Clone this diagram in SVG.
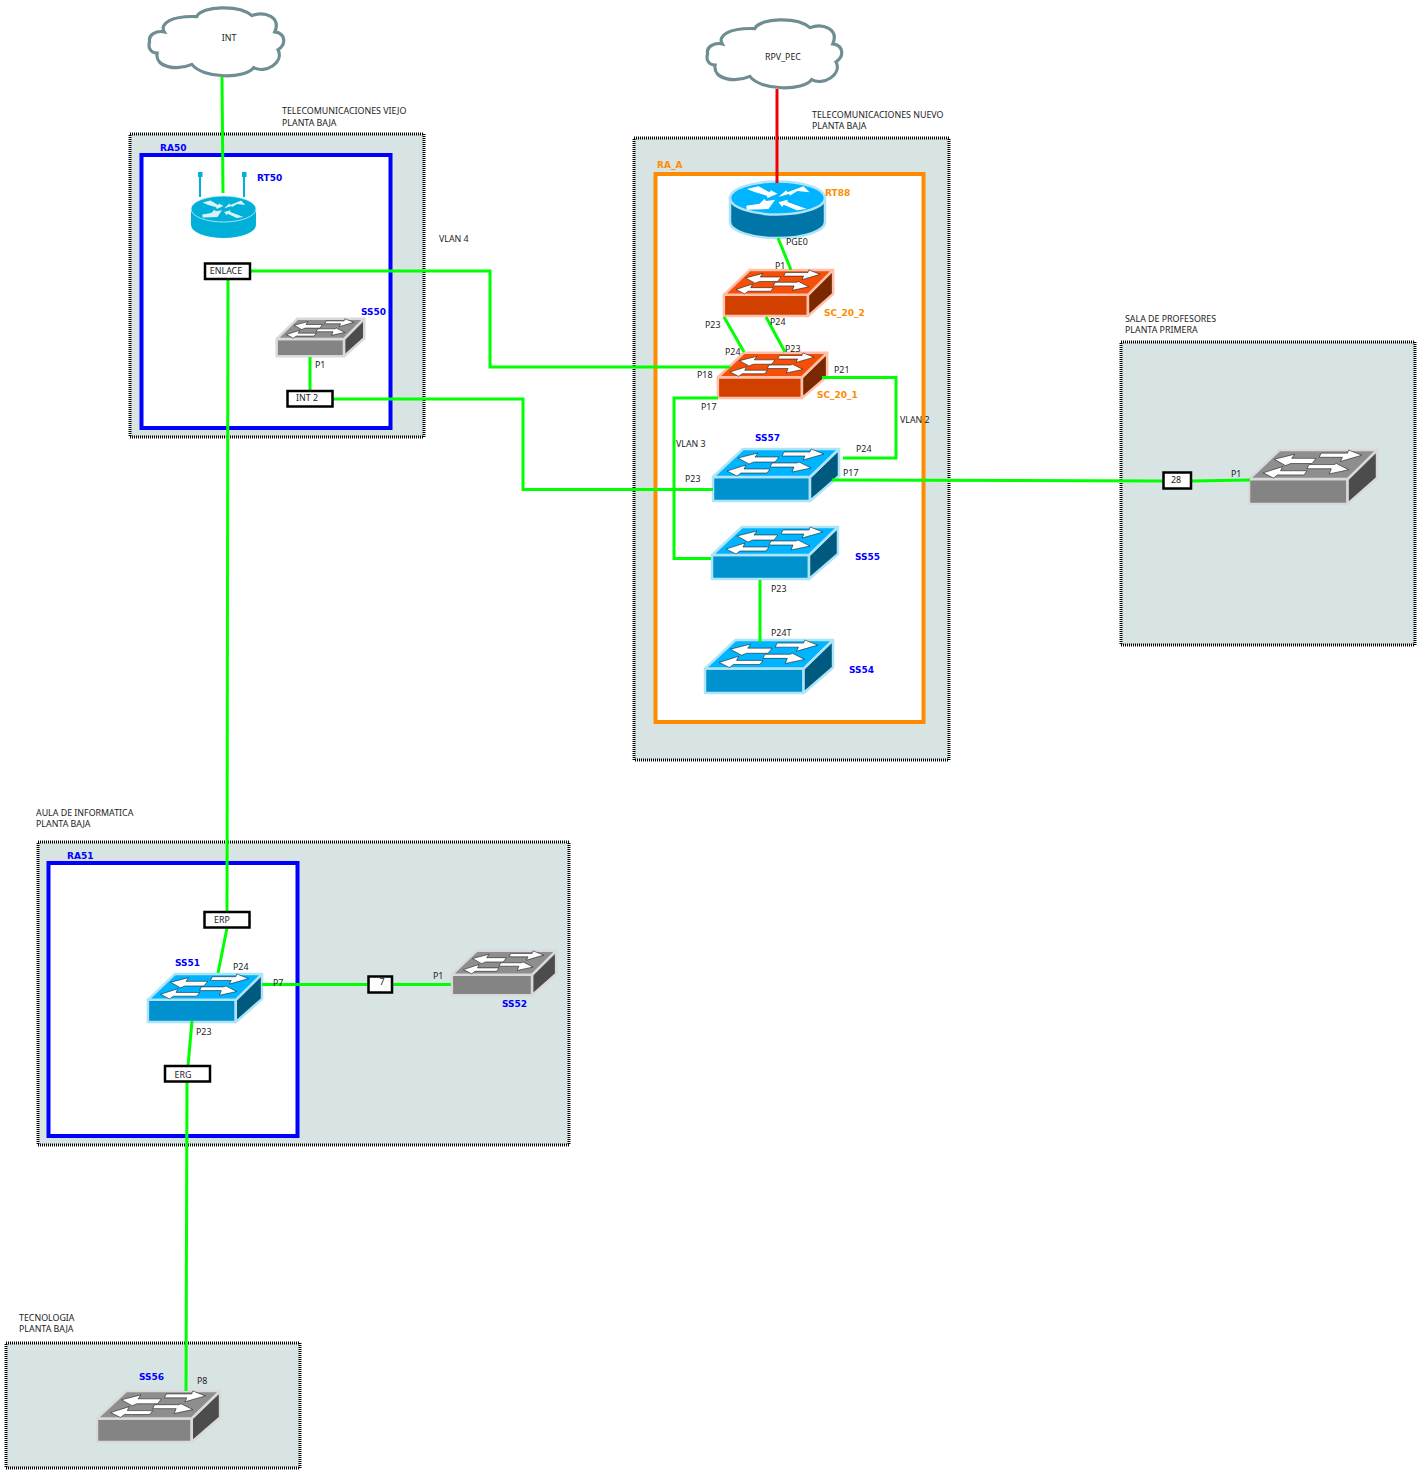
<svg xmlns="http://www.w3.org/2000/svg" xmlns:xlink="http://www.w3.org/1999/xlink" width="1424" height="1470" viewBox="0 0 1424 1470">
<style>
text{font-family:"Noto Sans","DejaVu Sans",sans-serif;font-size:8.850px;fill:#222}
.m{text-anchor:middle}
.bb,.bo{font-family:"DejaVu Sans",sans-serif;font-weight:700;font-size:9px}
.bb{fill:#0000ff}
.bo{fill:#ff8c00}
.area{fill:#d7e4e3;stroke:#000;stroke-width:3;stroke-dasharray:1 1}
.frame{fill:#fff;stroke-width:4}
.box{fill:#fff;stroke:#000;stroke-width:2.5}
.cloud{fill:#fff;stroke:#6e8e94;stroke-width:3.200;vector-effect:non-scaling-stroke}
.lnk{fill:none;stroke:#00ff00;stroke-width:3}
.red{stroke:#f00000}
.blue{--t:#00b4ff;--f:#0092cf;--s:#005a80;--e:#aee4f7}
.redsw{--t:#f5500a;--f:#d24000;--s:#7a2800;--e:#ffbfa8}
.grey{--t:#8e8e8e;--f:#848484;--s:#4c4c4c;--e:#d9d9d9}
.swp{stroke:var(--e);stroke-width:2.5;stroke-linejoin:round;vector-effect:non-scaling-stroke}
.ar{fill:#fff;stroke:#000;stroke-width:.5;vector-effect:non-scaling-stroke}
</style>
<defs>
<g id="sw">
<polygon class="swp" style="fill:var(--f)" points="1,29 98,29 98,53 1,53"/>
<polygon class="swp" style="fill:var(--s)" points="98,29 127,1 127,28 98,53"/>
<polygon class="swp" style="fill:var(--t)" points="1,29 31,1 127,1 98,29"/>
<polygon class="ar" points="26,10 46,5 43,9 67,9 63,14 42,14 37,16"/>
<polygon class="ar" points="112,6 99,1 98,4 72,4 70,8 93,8 91,12"/>
<polygon class="ar" points="15,23 34,17 32,21 58,21 55,25 29,25 25,28"/>
<polygon class="ar" points="99,20 87,14 85,15 60,15 58,19 82,19 80,24"/>
</g>
<path id="cl" class="cloud" d="M85,125C80,105 105,90 130,95C115,70 150,45 230,48C245,15 360,10 400,45C440,30 490,50 470,95C505,100 505,135 480,150C500,190 440,225 405,205C380,240 250,240 215,195C170,215 100,205 108,160C85,160 80,140 85,125Z"/>
<g id="rarrows" transform="scale(.3333) translate(-262,-85)">
<polygon points="170,58 205,50 238,68 242,62 262,72 232,85 230,78 195,68"/>
<polygon points="265,82 288,62 292,68 340,50 358,68 322,64 298,78 298,72"/>
<polygon points="255,90 235,118 170,120 168,108 208,102 222,88 228,94"/>
<polygon points="265,98 292,90 292,97 350,118 320,122 280,105 276,112"/>
</g>
</defs>

<g id="areas">
<rect class="area" x="130" y="134" width="294" height="303"/>
<rect class="area" x="634" y="138" width="315" height="622"/>
<rect class="area" x="1121" y="342" width="294" height="303"/>
<rect class="area" x="38" y="842" width="531" height="303"/>
<rect class="area" x="6" y="1343" width="294" height="125"/>
<rect class="frame" stroke="#0000ff" x="141.500" y="155" width="249" height="273"/>
<rect class="frame" stroke="#ff8c00" x="655.500" y="174" width="268" height="548"/>
<rect class="frame" stroke="#0000ff" x="48.500" y="863" width="249" height="273"/>
</g>

<g id="node-int"><use href="#cl" transform="translate(122,1) scale(.325,.325)"/><text class="m" x="229" y="41">INT</text></g>
<g id="node-rpv"><use href="#cl" transform="translate(680,13) scale(.325,.325)"/><text class="m" x="783" y="60">RPV_PEC</text></g>

<g id="node-rt50">
<path d="M200,175V197M244,175V197" stroke="#00b0d8" stroke-width="2" fill="none"/>
<rect x="198" y="172" width="4.500" height="5" fill="#00b0d8"/><rect x="242" y="172" width="4.500" height="5" fill="#00b0d8"/>
<path d="M191,211V225A32.500,13 0 0 0 256,225V211Z" fill="#00b0d8"/>
<ellipse cx="223.500" cy="209" rx="32.500" ry="13" fill="#00b0d8" stroke="#cfeef7" stroke-width=".8"/>
<use href="#rarrows" fill="#d8f2fa" transform="translate(223.500,209) scale(.68,.72)"/>
<text class="bb" x="257" y="181">RT50</text></g>

<g id="node-rt88">
<path d="M730,198V222A47.500,16 0 0 0 825,222V198Z" fill="#0075a8" stroke="#aee4f7" stroke-width="2.500"/>
<ellipse cx="777.500" cy="198" rx="47.500" ry="16.500" fill="#00b4ff" stroke="#aee4f7" stroke-width="2.500"/>
<use href="#rarrows" fill="#fff"  transform="translate(777.500,198)"/>
<text class="bo" x="825" y="196">RT88</text></g>

<g id="node-sc202" class="redsw"><use href="#sw" transform="translate(723,269) scale(.867,.889)"/><text class="bo" x="824" y="316">SC_20_2</text></g>
<g id="node-sc201" class="redsw"><use href="#sw" transform="translate(717,352) scale(.867,.87)"/><text class="bo" x="817" y="398">SC_20_1</text></g>
<g id="node-ss57" class="blue"><use href="#sw" transform="translate(712,448)"/><text class="bb" x="755" y="441">SS57</text></g>
<g id="node-ss55" class="blue"><use href="#sw" transform="translate(711,526)"/><text class="bb" x="855" y="560">SS55</text></g>
<g id="node-ss54" class="blue"><use href="#sw" transform="translate(704,639) scale(1.016,1.019)"/><text class="bb" x="849" y="673">SS54</text></g>
<g id="node-ss50" class="grey"><use href="#sw" transform="translate(276,318) scale(.695,.722)"/><text class="bb" x="361" y="315">SS50</text></g>
<g id="node-ss51" class="blue"><use href="#sw" transform="translate(147,973) scale(.906,.926)"/><text class="bb" x="175" y="966">SS51</text></g>
<g id="node-ss52" class="grey"><use href="#sw" transform="translate(451,950) scale(.828,.852)"/><text class="bb" x="502" y="1007">SS52</text></g>
<g id="node-ss56" class="grey"><use href="#sw" transform="translate(96,1390) scale(.977,.981)"/><text class="bb" x="139" y="1380">SS56</text></g>
<g id="node-prof" class="grey"><use href="#sw" transform="translate(1248,449) scale(1.016,1.037)"/></g>

<g id="connectors">
<path class="lnk" d="M222,77L223,193"/>
<path class="lnk red" d="M777,89V183"/>
<path class="lnk" d="M778,238L791,270"/>
<path class="lnk" d="M724,317L744,352"/>
<path class="lnk" d="M766,317L785,352"/>
<path class="lnk" d="M250,271H490V367H730"/>
<path class="lnk" d="M228,279L227,912"/>
<path class="lnk" d="M310,357V391"/>
<path class="lnk" d="M332,399H523V489.500H713"/>
<path class="lnk" d="M718,398H674V558.500H711"/>
<path class="lnk" d="M822,377.500H896V458H843"/>
<path class="lnk" d="M832,480L1163,481"/>
<path class="lnk" d="M1191,481L1250,480"/>
<path class="lnk" d="M760,580V642"/>
<path class="lnk" d="M227,928L218,973"/>
<path class="lnk" d="M192,1021L188,1066"/>
<path class="lnk" d="M262,984.500H368"/>
<path class="lnk" d="M392,984.500H451"/>
<path class="lnk" d="M187,1082L186,1391"/>
</g>

<g id="node-enlace"><rect class="box" x="205" y="263.500" width="45" height="15.500"/><text class="m" x="226" y="274">ENLACE</text></g>
<g id="node-int2"><rect class="box" x="287.500" y="391" width="45" height="15.500"/><text class="m" x="307" y="401">INT 2</text></g>
<g id="node-erp"><rect class="box" x="204.500" y="912" width="45" height="15.500"/><text class="m" x="222" y="923">ERP</text></g>
<g id="node-erg"><rect class="box" x="165" y="1066" width="45" height="15.500"/><text class="m" x="183" y="1078">ERG</text></g>
<g id="node-7"><rect class="box" x="368.500" y="976.500" width="23.500" height="16"/><text class="m" x="382" y="985">7</text></g>
<g id="node-28"><rect class="box" x="1163.500" y="472.500" width="27.500" height="16"/><text class="m" x="1176" y="483">28</text></g>

<g id="labels">
<text x="282" y="114">TELECOMUNICACIONES VIEJO</text><text x="282" y="126">PLANTA BAJA</text>
<text class="bb" x="160" y="151">RA50</text><text x="439" y="242">VLAN 4</text><text x="315" y="368">P1</text>
<text x="812" y="118">TELECOMUNICACIONES NUEVO</text><text x="812" y="129">PLANTA BAJA</text>
<text class="bo" x="657" y="168">RA_A</text>
<text x="786" y="245">PGE0</text><text x="775" y="269">P1</text>
<text x="705" y="328">P23</text><text x="770" y="325">P24</text><text x="725" y="355">P24</text><text x="785" y="352">P23</text>
<text x="697" y="378">P18</text><text x="834" y="373">P21</text><text x="701" y="410">P17</text>
<text x="900" y="423">VLAN 2</text><text x="676" y="447">VLAN 3</text>
<text x="856" y="452">P24</text><text x="843" y="476">P17</text><text x="685" y="482">P23</text>
<text x="771" y="592">P23</text><text x="771" y="636">P24T</text>
<text x="1125" y="322">SALA DE PROFESORES</text><text x="1125" y="333">PLANTA PRIMERA</text><text x="1231" y="477">P1</text>
<text x="36" y="816">AULA DE INFORMATICA</text><text x="36" y="827">PLANTA BAJA</text>
<text class="bb" x="67" y="859">RA51</text>
<text x="233" y="970">P24</text><text x="273" y="986">P7</text><text x="433" y="979">P1</text><text x="196" y="1035">P23</text>
<text x="19" y="1321">TECNOLOGIA</text><text x="19" y="1332">PLANTA BAJA</text><text x="197" y="1384">P8</text>
</g>
</svg>
